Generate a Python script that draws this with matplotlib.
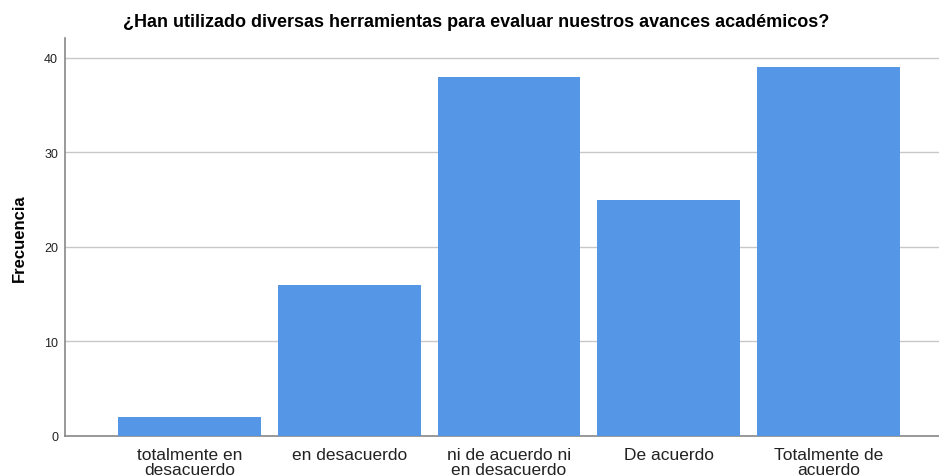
import matplotlib
matplotlib.use("Agg")
import matplotlib.pyplot as plt

categories = ["totalmente en\ndesacuerdo", "en desacuerdo", "ni de acuerdo ni\nen desacuerdo",
              "De acuerdo", "Totalmente de\nacuerdo"]
values = [2, 16, 38, 25, 39]
yticks = [0, 10, 20, 30, 40]

plt.rcParams['font.family'] = ['Liberation Sans', 'DejaVu Sans']

fig = plt.figure(figsize=(9.39, 4.77), dpi=100)
ax = fig.add_axes([0.0692, 0.0839, 0.9308, 0.8343])

x = list(range(len(categories)))
ax.bar(x, values, width=0.894, color="#5596E6", zorder=3)

ax.set_xlim(-0.778, 4.69)
ax.set_ylim(0, 42.1)
ax.set_yticks(yticks)
ax.set_yticklabels([str(v) for v in yticks], fontsize=9, color="#222222")
ax.yaxis.grid(True, color="#c8c8c8", linewidth=1, zorder=0)
ax.set_xticks(x)
ax.set_xticklabels(categories, fontsize=12.5, color="#222222", linespacing=1.0)
ax.tick_params(axis='x', length=0, pad=8)
ax.tick_params(axis='y', length=0, pad=5)

for s in ["top", "right"]:
    ax.spines[s].set_visible(False)
for s in ["left", "bottom"]:
    ax.spines[s].set_color("#888888")
    ax.spines[s].set_linewidth(1.2)

ax.set_ylabel("Frecuencia", fontsize=12, fontweight="bold", labelpad=12)
fig.text(0.507, 0.953, "¿Han utilizado diversas herramientas para evaluar nuestros avances académicos?",
         ha="center", va="center", fontsize=13, fontweight="bold")

fig.savefig("out.png", dpi=100)
